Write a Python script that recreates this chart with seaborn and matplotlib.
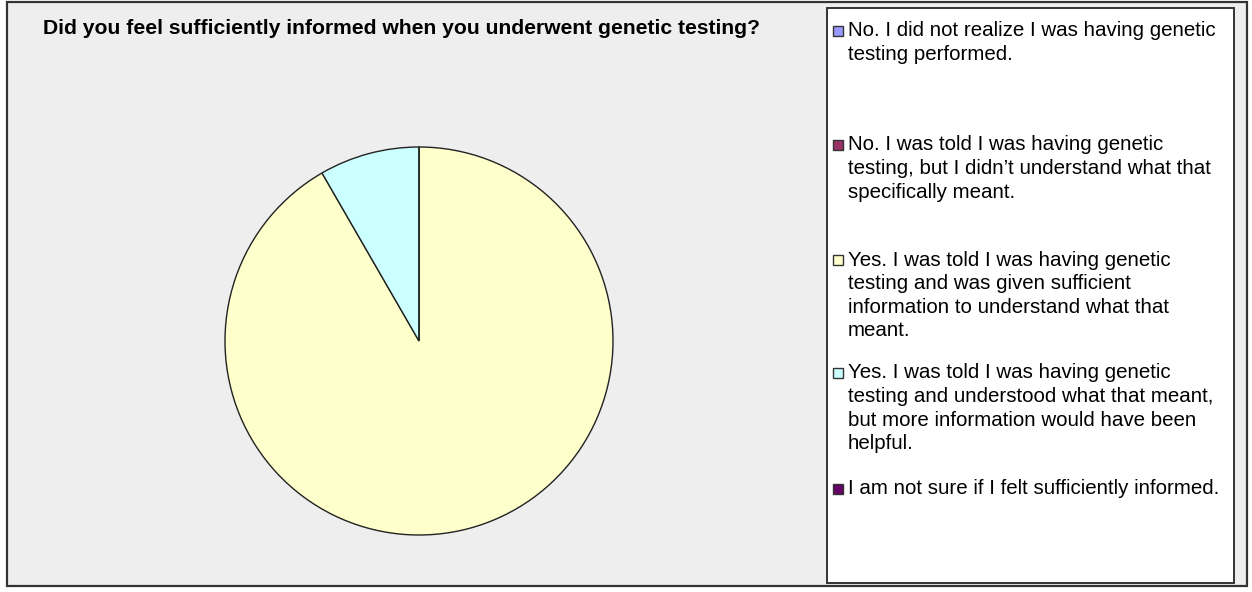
import matplotlib
matplotlib.use("Agg")
import matplotlib.pyplot as plt
from matplotlib.patches import Rectangle
import seaborn as sns

# Survey responses (counts: 11 of 12 vs 1 of 12)
responses = [
    "No. I did not realize I was having genetic\ntesting performed.",
    "No. I was told I was having genetic\ntesting, but I didn\u2019t understand what that\nspecifically meant.",
    "Yes. I was told I was having genetic\ntesting and was given sufficient\ninformation to understand what that\nmeant.",
    "Yes. I was told I was having genetic\ntesting and understood what that meant,\nbut more information would have been\nhelpful.",
    "I am not sure if I felt sufficiently informed.",
]
counts = [0, 0, 11, 1, 0]
colors = ["#9999FF", "#993366", "#FFFFCC", "#CCFFFF", "#660066"]
title = "Did you feel sufficiently informed when you underwent genetic testing?"

sns.set_theme(style="white")
plt.rcParams["font.family"] = ["Liberation Sans", "DejaVu Sans"]

W, H = 1252, 592
fig = plt.figure(figsize=(W / 100, H / 100), dpi=100, facecolor="white")


def fx(px):
    return px / W


def fy(py):
    return 1 - py / H


# chart area background and frame
fig.patches.append(Rectangle((fx(7), fy(586)), fx(1247) - fx(7), fy(2) - fy(586),
                             transform=fig.transFigure, facecolor="#EEEEEE",
                             edgecolor="#333333", linewidth=1.6, zorder=-5))

# pie
cx, cy, r = 419, 341, 194
ax = fig.add_axes([fx(cx - r), fy(cy + r), 2 * r / W, 2 * r / H])
ax.set_zorder(2)
ax.pie(counts, colors=colors, startangle=90, counterclock=False,
       wedgeprops=dict(edgecolor="#222222", linewidth=1.0))
ax.set_xlim(-1.0, 1.0)
ax.set_ylim(-1.0, 1.0)
ax.set_aspect("equal")
ax.axis("off")
for p in ax.patches:
    p.set_clip_on(False)

fig.text(fx(43), fy(29), title, fontsize=15.2, fontweight="bold",
         va="center", ha="left", color="black")

# legend box
fig.patches.append(Rectangle((fx(827), fy(583)), fx(1234) - fx(827), fy(8) - fy(583),
                             transform=fig.transFigure, facecolor="white",
                             edgecolor="#333333", linewidth=1.4, zorder=1))
entry_y = [31, 145, 260, 373, 489]
line_h = 23.6
for label, col, y0 in zip(responses, colors, entry_y):
    fig.patches.append(Rectangle((fx(833), fy(y0 + 5)), 10 / W, 10 / H,
                                 transform=fig.transFigure, facecolor=col,
                                 edgecolor="#333333", linewidth=1.0, zorder=2))
    for i, line in enumerate(label.split("\n")):
        fig.text(fx(848), fy(y0 + i * line_h), line, fontsize=14.8,
                 va="center", ha="left", color="black", zorder=3)

fig.savefig("out.png", dpi=100, facecolor="white")
